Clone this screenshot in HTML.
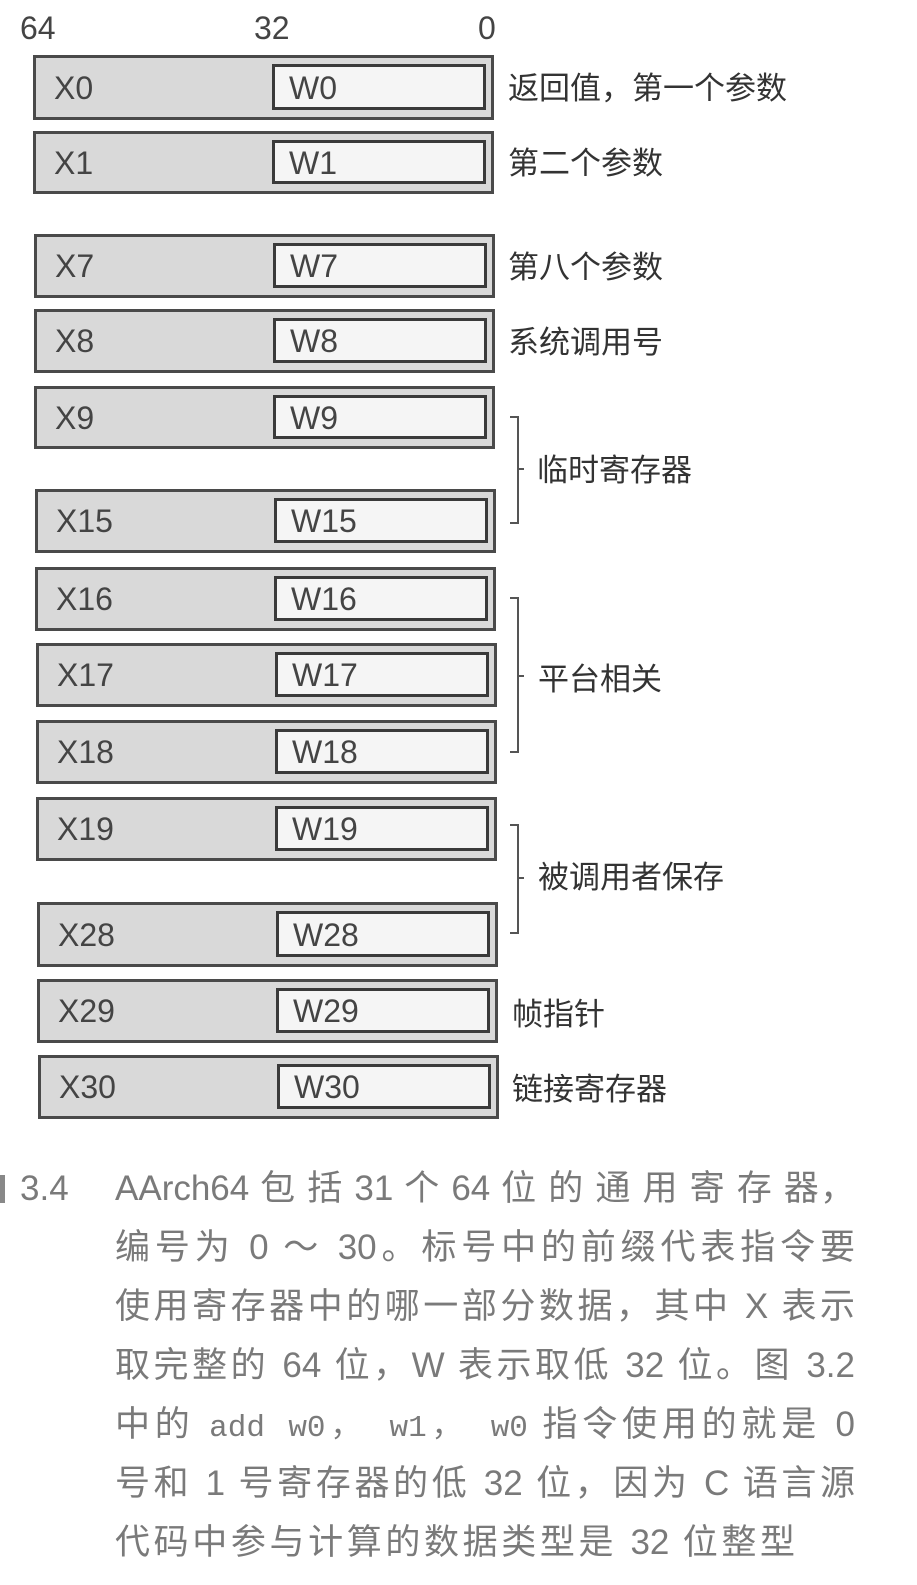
<!DOCTYPE html>
<html><head><meta charset="utf-8"><style>
body{margin:0;width:917px;height:1585px;background:#fff;position:relative;overflow:hidden;font-family:"Liberation Sans","Noto Sans CJK SC",sans-serif;}
.o{position:absolute;background:#d9d9d9;border:3px solid #4a4a4a;box-sizing:border-box;}
.i{position:absolute;background:#f5f5f5;border:3px solid #3a3a3a;box-sizing:border-box;}
.t{position:absolute;font-size:32px;color:#444;line-height:1;}
.l{position:absolute;font-size:31px;color:#333;line-height:1;font-family:"Noto Sans CJK SC",sans-serif;}
.b{position:absolute;border:2px solid #555;border-left:none;width:9px;box-sizing:border-box;}
.k{position:absolute;height:2px;width:7px;background:#555;}
.c{position:absolute;left:115px;width:740px;font-size:35px;color:#7a7a7a;font-family:"Liberation Sans","Noto Sans CJK SC",sans-serif;line-height:1;white-space:nowrap;text-align:justify;text-align-last:justify;}
.m{font-family:"Liberation Mono",monospace;font-size:31px;}
</style></head><body>
<div class="t" style="left:20px;top:12px;">64</div>
<div class="t" style="left:254px;top:12px;">32</div>
<div class="t" style="left:478px;top:12px;">0</div>

<div id="rows"></div>
<script>
var rows=[["0",55,120],["1",131,194],["7",234,298],["8",309,373],["9",386,449],["15",489,553],["16",567,631],["17",643,707],["18",720,784],["19",797,861],["28",902,967],["29",979,1043],["30",1055,1119]];
var h="";
rows.forEach(function(r){
 var f=(r[1]-55)/1000; var dx=Math.round(f*4.5);
 var L=33+dx,R=494+dx,IL=272+dx,IR=486+dx,hh=r[2]-r[1];
 h+='<div class="o" style="left:'+L+'px;top:'+r[1]+'px;width:'+(R-L)+'px;height:'+hh+'px"></div>';
 h+='<div class="i" style="left:'+IL+'px;top:'+(r[1]+9)+'px;width:'+(IR-IL)+'px;height:'+(hh-19)+'px"></div>';
 var cy=r[1]+hh/2-16;
 h+='<div class="t" style="left:'+(L+21)+'px;top:'+cy+'px">X'+r[0]+'</div>';
 h+='<div class="t" style="left:'+(IL+17)+'px;top:'+cy+'px">W'+r[0]+'</div>';
});
document.getElementById("rows").outerHTML=h;
</script>

<div class="l" style="left:508px;top:70px;">返回值，第一个参数</div>
<div class="l" style="left:508px;top:145px;">第二个参数</div>
<div class="l" style="left:508px;top:249px;">第八个参数</div>
<div class="l" style="left:508px;top:324px;">系统调用号</div>
<div class="l" style="left:537px;top:452px;">临时寄存器</div>
<div class="l" style="left:538px;top:661px;">平台相关</div>
<div class="l" style="left:538px;top:859px;">被调用者保存</div>
<div class="l" style="left:512px;top:996px;">帧指针</div>
<div class="l" style="left:512px;top:1071px;">链接寄存器</div>

<div class="b" style="left:510px;top:416px;height:108px;"></div><div class="k" style="left:517px;top:468px;"></div>
<div class="b" style="left:510px;top:597px;height:156px;"></div><div class="k" style="left:517px;top:675px;"></div>
<div class="b" style="left:510px;top:824px;height:110px;"></div><div class="k" style="left:517px;top:877px;"></div>

<div style="position:absolute;left:0;top:1175px;width:5px;height:28px;background:#888;"></div>
<div class="c" style="left:20px;width:auto;text-align:left;text-align-last:auto;top:1171px;">3.4</div>
<div class="c" style="top:1171px;">AArch64 包 括 31 个 64 位 的 通 用 寄 存 器，</div>
<div class="c" style="top:1230px;">编号为 0 ～ 30。标号中的前缀代表指令要</div>
<div class="c" style="top:1289px;">使用寄存器中的哪一部分数据，其中 X 表示</div>
<div class="c" style="top:1348px;">取完整的 64 位，W 表示取低 32 位。图 3.2</div>
<div class="c" style="top:1407px;">中的 <span class="m">add  w0， w1， w0</span> 指令使用的就是 0</div>
<div class="c" style="top:1466px;">号和 1 号寄存器的低 32 位，因为 C 语言源</div>
<div class="c" style="top:1525px;width:680px;">代码中参与计算的数据类型是 32 位整型</div>
</body></html>
